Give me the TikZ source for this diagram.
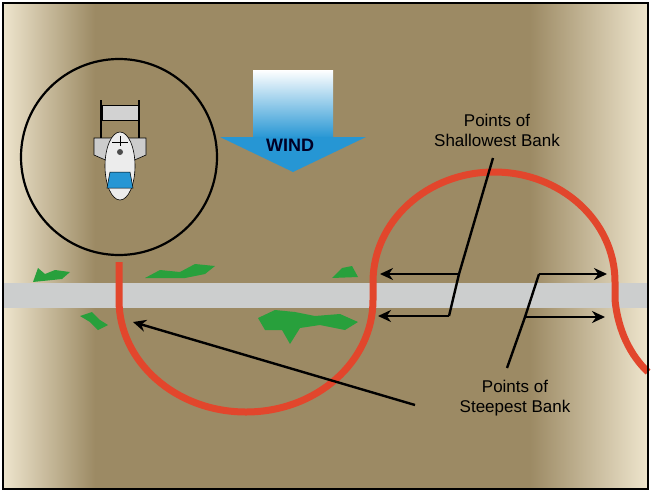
\documentclass[tikz,border=0pt]{standalone}
\usepackage{fontspec}
\setmainfont{Liberation Sans}
\usetikzlibrary{arrows.meta}
\definecolor{tan}{RGB}{156,138,100}
\definecolor{cream}{RGB}{238,229,205}
\definecolor{road}{RGB}{204,206,206}
\definecolor{flight}{RGB}{226,70,44}
\definecolor{windblue}{RGB}{38,150,212}
\definecolor{grass}{RGB}{40,160,60}
\tikzset{
  pointer/.style={line width=2.4pt, -{Stealth[length=13pt,width=12pt]}},
  leader/.style={line width=2.4pt},
  grasspatch/.style={fill=grass, draw=none},
  label/.style={font=\fontsize{17}{20}\selectfont, align=center}
}
\begin{document}
\begin{tikzpicture}[x=1pt,y=-1pt]
\useasboundingbox (0,0) rectangle (652,493);
% ground
\shade[left color=cream, right color=tan] (3,3) rectangle (95,489);
\fill[tan] (95,3) rectangle (530,489);
\shade[left color=tan, right color=cream] (530,3) rectangle (648,489);
\fill[road] (3,283) rectangle (648,308);
% grass
\fill[grasspatch] (33,282) -- (38,268) -- (45,274) -- (55,270) -- (70,272) -- (62,279) -- cycle;
\fill[grasspatch] (145,278) -- (160,270) -- (180,272) -- (195,264) -- (215,266) -- (205,274) -- (185,278) -- cycle;
\fill[grasspatch] (332,278) -- (342,268) -- (352,266) -- (358,277) -- cycle;
\fill[grasspatch] (80,316) -- (92,312) -- (100,320) -- (108,325) -- (98,330) -- (90,322) -- cycle;
\fill[grasspatch] (258,318) -- (275,310) -- (295,312) -- (315,316) -- (340,314) -- (358,322) -- (345,330) -- (320,325) -- (300,328) -- (290,344) -- (282,330) -- (265,330) -- cycle;
% inset with the aircraft
\node[circle, draw, line width=2.2pt, minimum size=196pt, inner sep=0pt] (inset) at (119,157) {};
\fill[gray!35, draw=black, line width=0.6pt] (102,105) rectangle (138,120);
\draw[line width=1.6pt] (101,100) -- (101,150) (139,100) -- (139,150);
\fill[gray!40, draw=black, line width=0.6pt] (94,138) -- (146,138) -- (146,155) -- (130,162) -- (110,162) -- (94,155) -- cycle;
\fill[gray!15, draw=black, line width=0.6pt] (120,166) ellipse (15pt and 34pt);
\fill[windblue, draw=black, line width=0.5pt] (110,172) -- (130,172) -- (133,188) -- (107,188) -- cycle;
\fill[black!70] (120,152) circle (3pt);
\draw[line width=1pt] (112,142) -- (128,142) (120,136) -- (120,146);
% wind arrow
\shade[top color=white, bottom color=windblue] (253,70) rectangle (333,138);
\fill[windblue] (220,137) -- (366,137) -- (293,172) -- cycle;
\node[font=\bfseries\fontsize{18}{20}\selectfont, text=black!85!blue] (wind) at (290,145) {WIND};
% flight path
\draw[flight, line width=7pt]
  (119,262) -- (119,300) arc[start angle=180, end angle=0, x radius=127, y radius=112]
  -- (373,282) arc[start angle=180, end angle=360, x radius=121, y radius=110]
  -- (615,300) .. controls (618,330) and (630,355) .. (648,372);
% labels
\node[label] (shallow) at (497,130) {Points of\\Shallowest Bank};
\node[label] (steep) at (515,398) {Points of\\Steepest Bank};
\coordinate (s0) at (493,158);
\coordinate (s1) at (459,274);
\coordinate (s2) at (449,316);
\coordinate (sl1) at (380,274);
\coordinate (sl2) at (378,316);
\coordinate (t0) at (507,368);
\coordinate (t1) at (525,317);
\coordinate (t2) at (539,274);
\coordinate (tr1) at (607,274);
\coordinate (tr2) at (605,317);
\draw[leader] (s0) -- (s1) -- (s2);
\draw[pointer] (s1) -- (sl1);
\draw[pointer] (s2) -- (sl2);
\draw[leader] (t0) -- (t1) -- (t2);
\draw[pointer] (t2) -- (tr1);
\draw[pointer] (t1) -- (tr2);
\coordinate (l0) at (415,405);
\coordinate (l1) at (133,322);
\draw[pointer] (l0) -- (l1);
% frame
\draw[line width=2.5pt] (3,3) rectangle (648,489);
\end{tikzpicture}
\end{document}
